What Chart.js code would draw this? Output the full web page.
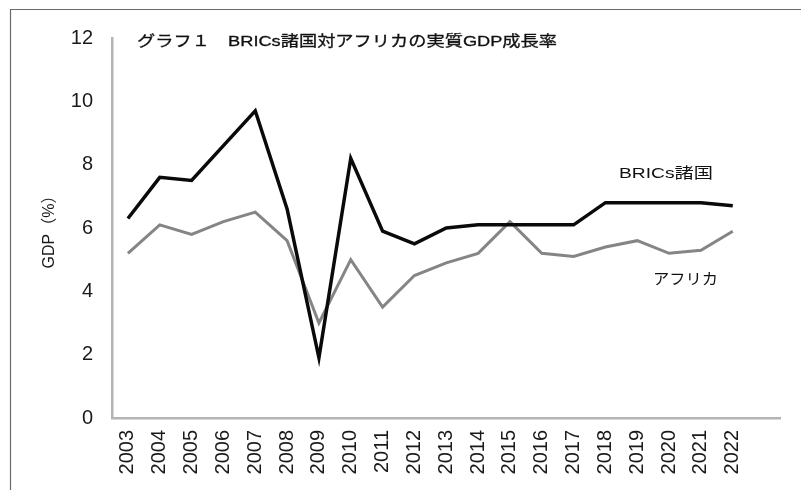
<!DOCTYPE html>
<html>
<head>
<meta charset="utf-8">
<script src="https://cdn.jsdelivr.net/npm/chart.js@4/dist/chart.umd.min.js"></script>
<style>
  html, body { margin: 0; padding: 0; background: #fff; }
  #wrap { width: 801px; height: 490px; }
</style>
</head>
<body>
<div id="wrap"><canvas id="c" width="801" height="490"></canvas></div>
<script>
const years = ['2003','2004','2005','2006','2007','2008','2009','2010','2011','2012','2013','2014','2015','2016','2017','2018','2019','2020','2021','2022',''];
const bricsGrowth  = [6.3, 7.6, 7.5, 8.6, 9.7, 6.6, 1.9, 8.2, 5.9, 5.5, 6.0, 6.1, 6.1, 6.1, 6.1, 6.8, 6.8, 6.8, 6.8, 6.7];
const africaGrowth = [5.2, 6.1, 5.8, 6.2, 6.5, 5.6, 3.0, 5.0, 3.5, 4.5, 4.9, 5.2, 6.2, 5.2, 5.1, 5.4, 5.6, 5.2, 5.3, 5.9];
const yMin = 0, yMax = 12, yStep = 2;
const chartTitle = 'グラフ１　BRICs諸国対アフリカの実質GDP成長率';
const yTitle = 'GDP（%）';
const bricsName = 'BRICs諸国';
const africaName = 'アフリカ';

const FONT = '"Liberation Sans", "Noto Sans CJK JP", sans-serif';

function stretchText(ctx, text, x, y, targetWidth, strokeW) {
  const w = ctx.measureText(text).width;
  const sx = targetWidth / w;
  ctx.save();
  ctx.translate(x, y);
  ctx.scale(sx, 1);
  ctx.fillText(text, 0, 0);
  if (strokeW) {
    ctx.lineWidth = strokeW;
    ctx.strokeStyle = ctx.fillStyle;
    ctx.strokeText(text, 0, 0);
  }
  ctx.restore();
}

const decor = {
  id: 'decor',
  afterDraw(chart) {
    const ctx = chart.ctx;
    ctx.save();
    // frame
    ctx.strokeStyle = '#6a6a6a';
    ctx.lineWidth = 1.2;
    ctx.beginPath();
    ctx.moveTo(10.5, 490);
    ctx.lineTo(10.5, 9.5);
    ctx.lineTo(801, 9.5);
    ctx.stroke();
    // title
    ctx.fillStyle = '#111';
    ctx.textBaseline = 'middle';
    ctx.textAlign = 'left';
    ctx.font = '15px ' + FONT;
    stretchText(ctx, chartTitle, 137, 42, 420, 0.3);
    // series labels
    ctx.font = '15px ' + FONT;
    stretchText(ctx, bricsName, 619, 174, 94, 0);
    stretchText(ctx, africaName, 653, 280, 65, 0);
    ctx.restore();
  }
};

new Chart(document.getElementById('c'), {
  type: 'line',
  data: {
    labels: years,
    datasets: [
      { label: bricsName, data: bricsGrowth, borderColor: '#0a0a0a', borderWidth: 3.5, pointRadius: 0, tension: 0, fill: false },
      { label: africaName, data: africaGrowth, borderColor: '#858585', borderWidth: 3, pointRadius: 0, tension: 0, fill: false }
    ]
  },
  options: {
    responsive: false,
    animation: false,
    devicePixelRatio: 1,
    layout: { padding: { left: 0, right: 16, top: 38, bottom: 0 } },
    plugins: { legend: { display: false }, tooltip: { enabled: false }, title: { display: false } },
    scales: {
      x: {
        type: 'category',
        offset: true,
        grid: { display: false, drawTicks: false },
        border: { display: true, color: '#b4b4b4', width: 2.5 },
        ticks: { autoSkip: false, minRotation: 90, maxRotation: 90, padding: 12, color: '#1a1a1a', font: { family: FONT, size: 20 } },
        afterFit(s) { s.height = 72; }
      },
      y: {
        min: yMin, max: yMax,
        grid: { display: false, drawTicks: false },
        border: { display: true, color: '#b4b4b4', width: 2.5 },
        ticks: { stepSize: yStep, padding: 19, color: '#1a1a1a', font: { family: FONT, size: 20 } },
        title: { display: true, text: yTitle, color: '#1a1a1a', font: { family: FONT, size: 16 }, padding: { top: 40, bottom: 0 } },
        afterFit(s) { s.width = 112; }
      }
    }
  },
  plugins: [decor]
});
</script>
</body>
</html>
